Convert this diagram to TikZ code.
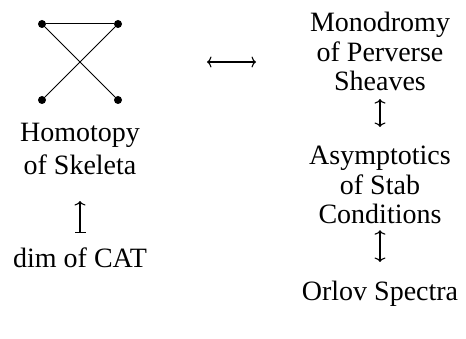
\documentclass[tikz,border=0pt]{standalone}
\usepackage{fontspec}
\setmainfont{Liberation Serif}
\usetikzlibrary{arrows.meta}
\begin{document}
\begin{tikzpicture}[x=1pt,y=-1pt,
  dot/.style={circle,fill=black,inner sep=0pt,minimum size=8pt},
  lbl/.style={font=\fontsize{28}{29.5}\selectfont,align=center,inner sep=0pt,anchor=north},
  lbll/.style={lbl,font=\fontsize{28}{33}\selectfont},
  edge/.style={line width=1pt},
  con/.style={line width=1.1pt},
  cmtip/.tip={Computer Modern Rightarrow[length=4.5pt,width=11pt]},
  bartip/.tip={Bar[width=11pt]}]
\useasboundingbox (0,0) rectangle (466,339);
% graph
\node[dot] (a) at (42,24) {};
\node[dot] (b) at (118,24) {};
\node[dot] (c) at (42,100) {};
\node[dot] (d) at (118,100) {};
\draw[edge] (a) -- (b);
\draw[edge] (a) -- (d);
\draw[edge] (b) -- (c);
% left column
\node[lbll] (hom) at (80,123) {Homotopy\\of Skeleta};
\node[lbl] (dim) at (80,248) {dim of CAT};
% right column
\node[lbl] (mono) at (380,12) {Monodromy\\of Perverse\\Sheaves};
\node[lbl] (asym) at (380,146) {Asymptotics\\of Stab\\Conditions};
\node[lbl] (orl) at (380,281) {Orlov Spectra};
% connectors
\draw[con,cmtip-cmtip] (207,62) -- (256,62);
\draw[con,bartip-cmtip] ([yshift=15pt]dim.north) -- ([yshift=-26pt]hom.south);
\draw[con,cmtip-cmtip] ([yshift=-8pt]mono.south) -- ([yshift=19pt]asym.north);
\draw[con,cmtip-cmtip] ([yshift=-6pt]asym.south) -- ([yshift=19pt]orl.north);
\end{tikzpicture}
\end{document}
